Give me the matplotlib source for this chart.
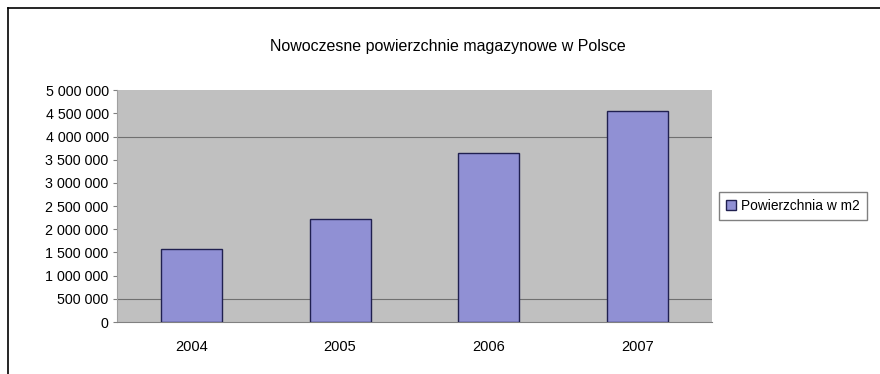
import matplotlib.pyplot as plt
from matplotlib.lines import Line2D

years = ['2004', '2005', '2006', '2007']
area = [1570000, 2220000, 3640000, 4550000]
yticks = [0, 500000, 1000000, 1500000, 2000000, 2500000, 3000000, 3500000,
          4000000, 4500000, 5000000]
ytick_labels = ['0', '500 000', '1 000 000', '1 500 000', '2 000 000', '2 500 000',
                '3 000 000', '3 500 000', '4 000 000', '4 500 000', '5 000 000']

plt.rcParams['font.family'] = ['Liberation Sans', 'DejaVu Sans']

fig = plt.figure(figsize=(8.8, 3.74), dpi=100)
# chart frame: only top and left edges show in the crop
fig.lines.append(Line2D([0.009, 1.0], [0.979, 0.979], transform=fig.transFigure,
                        color='black', linewidth=1.2))
fig.lines.append(Line2D([0.009, 0.009], [0.0, 0.979], transform=fig.transFigure,
                        color='black', linewidth=1.2))

ax = fig.add_axes([0.133, 0.139, 0.676, 0.62])
ax.set_facecolor('#c0c0c0')

x = range(len(years))
ax.bar(x, area, width=0.41, color='#9090d4', edgecolor='#202050', linewidth=1,
       label='Powierzchnia w m2', zorder=3)
for g in [500000, 4000000]:
    ax.axhline(g, color='#707070', linewidth=0.8, zorder=2)

ax.set_xlim(-0.5, 3.5)
ax.set_ylim(0, 5000000)
ax.set_xticks(list(x))
ax.set_xticklabels(years, fontsize=10.5)
ax.set_yticks(yticks)
ax.set_yticklabels(ytick_labels, fontsize=10.3)
ax.tick_params(axis='x', length=0, pad=13)
ax.tick_params(axis='y', length=3, color='#808080', pad=3)
for s in ['top', 'right']:
    ax.spines[s].set_visible(False)
ax.spines['left'].set_color('#a0a0a0')
ax.spines['bottom'].set_color('#808080')

fig.text(0.509, 0.877, 'Nowoczesne powierzchnie magazynowe w Polsce',
         ha='center', va='center', fontsize=11.5)

ax.legend(loc='center left', bbox_to_anchor=(1.005, 0.5), fontsize=9.9,
          frameon=True, fancybox=False, edgecolor='#606060', handlelength=0.7,
          handletextpad=0.4, borderpad=0.5, borderaxespad=0.3)

plt.savefig('out.png', dpi=100)
